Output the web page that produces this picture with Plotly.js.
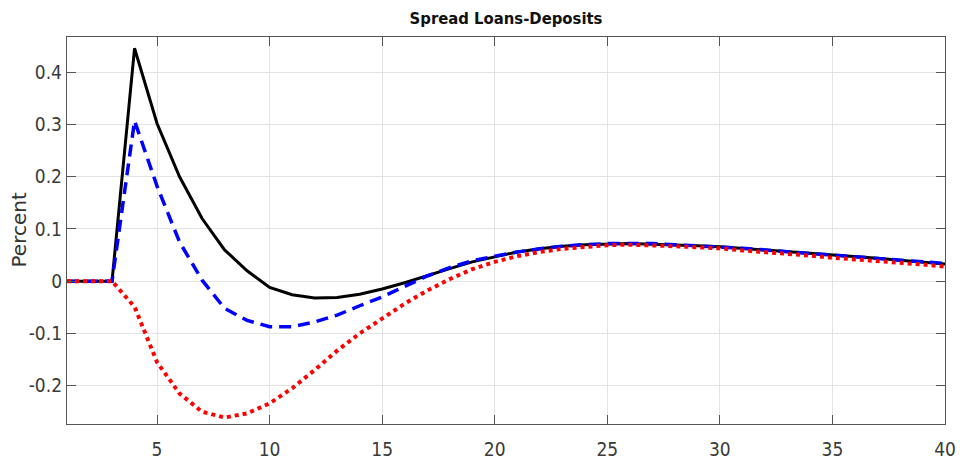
<!DOCTYPE html>
<html>
<head>
<meta charset="utf-8">
<script src="https://cdn.plot.ly/plotly-3.0.1.min.js"></script>
<style>html,body{margin:0;padding:0;background:#fff;}#chart{width:960px;height:465px;}</style>
</head>
<body>
<div id="chart"></div>
<script>
// Horizon (quarters)
const periods = [1,2,3,4,5,6,7,8,9,10,11,12,13,14,15,16,17,18,19,20,21,22,23,24,25,26,27,28,29,30,31,32,33,34,35,36,37,38,39,40];

// Series 1: black solid
const blackSolid = [0,0,0,0.446,0.302,0.200,0.120,0.060,0.020,-0.012,-0.026,-0.032,-0.031,-0.025,-0.015,-0.003,0.011,0.024,0.037,0.047,0.056,0.062,0.067,0.070,0.071,0.072,0.071,0.070,0.068,0.066,0.063,0.060,0.056,0.053,0.050,0.047,0.044,0.040,0.037,0.033];

// Series 2: blue dashed
const blueDashed = [0,0,0,0.307,0.182,0.075,0.002,-0.052,-0.075,-0.087,-0.087,-0.078,-0.065,-0.047,-0.030,-0.010,0.010,0.026,0.039,0.048,0.056,0.062,0.067,0.070,0.072,0.072,0.072,0.070,0.068,0.066,0.063,0.060,0.056,0.053,0.050,0.047,0.044,0.040,0.037,0.034];

// Series 3: red dotted
const redDotted = [0,0,0,-0.049,-0.155,-0.215,-0.250,-0.261,-0.253,-0.234,-0.205,-0.170,-0.133,-0.100,-0.072,-0.043,-0.018,0.004,0.023,0.037,0.048,0.056,0.062,0.066,0.069,0.070,0.069,0.067,0.065,0.063,0.059,0.056,0.052,0.049,0.045,0.042,0.039,0.035,0.032,0.028];

// Tick labels
const xTickVals = [5,10,15,20,25,30,35,40];
const yTickVals = [-0.2,-0.1,0,0.1,0.2,0.3,0.4];
const yTickText = ["-0.2","-0.1","0","0.1","0.2","0.3","0.4"];

const narrow = "Liberation Sans Narrow, DejaVu Sans Condensed, Arial Narrow, sans-serif";

const traces = [
  {x: periods, y: blackSolid, type: "scatter", mode: "lines", line: {color: "#000000", width: 3}},
  {x: periods, y: blueDashed, type: "scatter", mode: "lines", line: {color: "#0000ff", width: 3.5, dash: "12px,7px"}},
  {x: periods, y: redDotted, type: "scatter", mode: "lines", line: {color: "#ff0000", width: 4, dash: "dot"}}
];

const axisCommon = {
  showline: true, linecolor: "#555", linewidth: 1.2, mirror: "allticks",
  ticks: "inside", ticklen: 9, tickcolor: "#555", tickwidth: 1,
  showgrid: true, gridcolor: "#e3e3e3", gridwidth: 1, zeroline: false,
  tickfont: {family: narrow, size: 19, color: "#3a3a3a"}
};

const layout = {
  width: 960, height: 465,
  margin: {l: 67, r: 15, t: 37, b: 41},
  paper_bgcolor: "#fff", plot_bgcolor: "#fff", showlegend: false,
  title: {text: "<b>Spread Loans-Deposits</b>", xref: "paper", x: 0.5, xanchor: "center", y: 0.96, yanchor: "middle",
          font: {family: narrow, size: 16.5, color: "#111"}},
  xaxis: Object.assign({}, axisCommon, {range: [1, 40], tickvals: xTickVals, ticklabelstandoff: 8}),
  yaxis: Object.assign({}, axisCommon, {range: [-0.2734, 0.4676], tickvals: yTickVals, ticktext: yTickText}),
  annotations: [{
    text: "Percent", textangle: -90, xref: "paper", yref: "paper",
    x: (18 - 67) / 878, y: 0.5, xanchor: "center", yanchor: "middle", showarrow: false,
    font: {family: "DejaVu Sans, Arial, sans-serif", size: 20, color: "#333"}
  }]
};

Plotly.newPlot("chart", traces, layout, {staticPlot: true, displayModeBar: false});
</script>
</body>
</html>
